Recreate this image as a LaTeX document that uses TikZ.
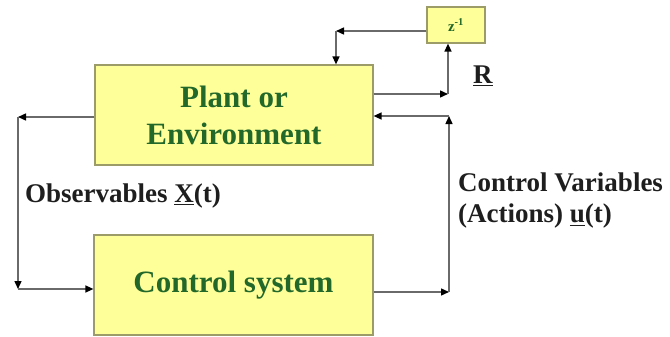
\documentclass[tikz,border=0pt]{standalone}
\usepackage{fontspec}
\setmainfont{Liberation Serif}[BoldFont={Liberation Serif Bold}]
\usetikzlibrary{arrows.meta}
\definecolor{boxfill}{HTML}{FFFF99}
\definecolor{boxedge}{HTML}{9C9C68}
\definecolor{boxtext}{HTML}{22682A}
\definecolor{wire}{HTML}{6A6A6A}
\definecolor{labeltext}{HTML}{1E1E1E}
\tikzset{
  block/.style={draw=boxedge, line width=1.2pt, fill=boxfill, inner sep=0pt,
    align=center, text=boxtext, font=\fontsize{31}{37}\selectfont\bfseries},
  delay/.style={draw=boxedge, line width=1.2pt, fill=boxfill, inner sep=0pt,
    text=boxtext, font=\fontsize{15}{18}\selectfont\bfseries,
    minimum width=58pt, minimum height=36pt},
  wirearrow/.style={draw=wire, line width=1.4pt,
    -{Triangle[length=8pt,width=7pt,fill=black,color=black]}},
  lbl/.style={text=labeltext, inner sep=0pt, align=left,
    font=\fontsize{27}{31}\selectfont\bfseries}
}
\begin{document}
\begin{tikzpicture}[x=1pt,y=-1pt]
\useasboundingbox[fill=white] (0,0) rectangle (670,337);

% blocks
\node[block, minimum width=278pt, minimum height=100pt] (plant) at (234,115)
  {Plant or\\Environment};
\node[block, minimum width=279pt, minimum height=100pt] (ctrl) at (233.5,285)
  {Control system};
\node[delay] (z) at (456,25) {z\textsuperscript{-1}};

% corner points of the wiring
\coordinate (zl) at (336,31);
\coordinate (rr) at (448,94);
\coordinate (ur) at (449,292);
\coordinate (ut) at (449,116);
\coordinate (ol) at (18,117);
\coordinate (ob) at (18,289);

% reward path through the delay
\draw[wirearrow] (z.west |- zl) -- (zl);
\draw[wirearrow] (zl) -- (zl |- plant.north);
\draw[wirearrow] (plant.east |- rr) -- (rr);
\draw[wirearrow] (rr) -- (rr |- z.south);

% control actions
\draw[wirearrow] (ctrl.east |- ur) -- (ur);
\draw[wirearrow] (ur) -- (ut);
\draw[wirearrow] (ut) -- (ut -| plant.east);

% observations
\draw[wirearrow] (plant.west |- ol) -- (ol);
\draw[wirearrow] (ol) -- (ob);
\draw[wirearrow] (ob) -- (ob -| ctrl.west);

% labels
\node[lbl, anchor=west] (rlbl) at (473,76) {\underline{R}};
\node[lbl, anchor=west] (obs) at (25,196) {Observables \underline{X}(t)};
\node[lbl, anchor=west] (act) at (458,201) {Control Variables\\(Actions) \underline{u}(t)};
\end{tikzpicture}
\end{document}
